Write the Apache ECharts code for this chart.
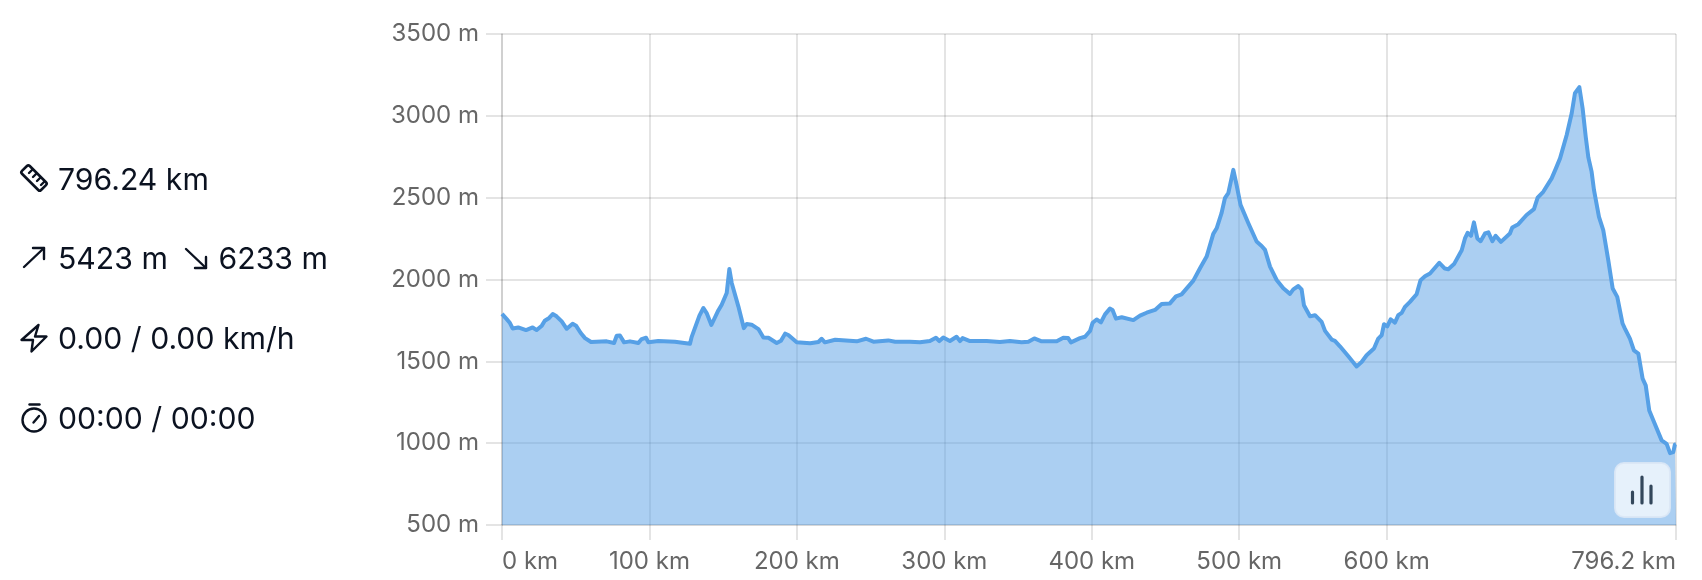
<!DOCTYPE html>
<html><head><meta charset="utf-8">
<style>html,body{margin:0;padding:0;background:#fff}#c{width:1702px;height:580px}</style>
<script src="https://cdn.jsdelivr.net/npm/echarts@6/dist/echarts.min.js"></script>
</head><body><div id="c"></div>
<script>
const distanceKm = [0,0.9,3.2,5.4,7.2,11,16.3,20.8,23.5,27,29,32,34.4,37,40.5,43.9,47.9,50.2,53.4,56.3,60.4,71,76,77.8,80,82.8,86.8,92.5,94.7,97.7,99.3,106,117.3,127.5,128.6,133.9,136.6,138.8,142,146.7,149,152.4,154.2,155.8,160.3,164,166,169.3,173.9,177.3,180.7,186.3,189.2,192,194.2,199.9,209,214.6,216.8,219,226,240.6,246.9,251.9,262,266.6,276.7,283.5,290.2,294.3,296.6,299.3,303.8,308.3,310.6,312.4,317.4,328.7,337.7,344.5,352.4,357,361,366,376.2,380.7,384,385.9,392,395.4,398.8,400.6,403.3,406.2,409,412.3,414.1,416.4,420.3,428.2,432.7,437.2,442.9,447.4,453,457.1,460.9,468.9,473.4,477.9,482.4,484.7,488,490.3,492.6,496,498.2,500.9,506.2,511.8,515.2,517.5,520.9,525.4,529.9,534.4,536.7,540.1,542.3,543.9,548,551.4,555.9,558.2,562.7,564.9,568.3,574,579.6,583,586.4,591.4,594.3,596.6,598.2,600.4,602.7,605.6,607.9,610.2,612.4,615.8,620.3,623,626,629.4,635.7,639.5,641.8,645.7,650.9,653.1,654.9,657.2,659.2,661.5,663.7,666.7,669,671.7,673.9,677.5,683.6,685.2,689.3,694.9,699.9,702.4,706.2,711.9,714.8,717.6,722.1,725.5,727.7,730.7,732.9,735,736.8,739,740.6,744,746.9,750.3,753.3,756.4,760,761.6,765,767.7,770.7,773.6,775.7,778.1,780.9,786.5,789.9,792.2,794.4,795.5,796.24];
const elevationM = [1790,1791,1758,1734,1701,1707,1691,1707,1691,1718,1748,1765,1789,1775,1744,1699,1730,1718,1673,1642,1618,1622,1612,1656,1658,1616,1622,1612,1636,1644,1616,1624,1620,1608,1648,1779,1826,1795,1722,1811,1846,1918,2064,1979,1836,1703,1728,1724,1697,1646,1644,1612,1626,1669,1661,1616,1610,1618,1638,1616,1632,1622,1638,1620,1628,1620,1620,1616,1624,1644,1624,1646,1624,1650,1624,1642,1624,1624,1618,1624,1616,1620,1640,1622,1622,1644,1642,1616,1642,1650,1685,1736,1756,1738,1787,1822,1814,1761,1769,1752,1779,1797,1814,1850,1854,1897,1909,1993,2069,2140,2279,2313,2405,2497,2528,2670,2579,2456,2344,2232,2205,2181,2079,1997,1946,1912,1940,1960,1940,1843,1775,1782,1741,1686,1633,1625,1592,1531,1469,1496,1537,1578,1639,1659,1727,1714,1757,1737,1782,1796,1833,1863,1910,1996,2020,2037,2102,2067,2063,2094,2179,2251,2285,2267,2349,2251,2234,2281,2288,2234,2267,2230,2281,2318,2338,2394,2430,2500,2536,2618,2679,2740,2883,3016,3138,3175,3046,2873,2746,2659,2547,2383,2302,2118,1945,1894,1731,1700,1639,1567,1547,1394,1353,1200,1139,1017,996,939,945,992,995];
const xTicks = [0,100,200,300,400,500,600,796.24];
const stats = ["796.24 km","5423 m","6233 m","0.00 / 0.00 km/h","00:00 / 00:00"];

const chart = echarts.init(document.getElementById('c'));
const txtFont = 'Inter, "Noto Sans", sans-serif';
const ink = '#0b1220';
const gridC = 'rgba(0,0,0,0.105)';
const T = (s,x,y)=>({type:'text',z:50,x,y,style:{text:s,fill:ink,font:'400 30.2px '+txtFont,verticalAlign:'middle'}});
const stroke = {stroke:ink,lineWidth:2.4,fill:null,lineCap:'round',lineJoin:'round'};
const PL = pts=>({type:'polyline',z:50,shape:{points:pts},style:stroke});
const bar = (x,y1,y2)=>({type:'line',z:60,shape:{x1:x,y1,x2:x,y2},style:{stroke:'#33475b',lineWidth:3.2,lineCap:'round'}});
chart.setOption({
  animation:false,
  grid:{left:502,top:34,width:1174,height:491,containLabel:false},
  xAxis:{type:'value',min:0,max:796.24,z:3,
    axisLine:{show:true,lineStyle:{color:'rgba(0,0,0,0.06)',width:2}},
    axisTick:{show:true,length:15,customValues:xTicks,lineStyle:{color:gridC,width:2}},
    splitLine:{show:true,lineStyle:{color:gridC,width:2}},
    axisLabel:{customValues:xTicks,margin:25,color:'#666',fontFamily:txtFont,fontSize:24,alignMinLabel:'left',alignMaxLabel:'right',
      formatter:v=>(v===796.24?'796.2':v)+' km'}},
  yAxis:{type:'value',min:500,max:3500,interval:500,z:3,
    axisLine:{show:true,lineStyle:{color:'rgba(0,0,0,0.09)',width:2}},
    axisTick:{show:true,length:16,lineStyle:{color:gridC,width:2}},
    splitLine:{show:true,lineStyle:{color:gridC,width:2}},
    axisLabel:{margin:23,color:'#666',fontFamily:txtFont,fontSize:24,formatter:v=>v+' m'}},
  series:[{type:'line',symbol:'none',data:distanceKm.map((d,i)=>[d,elevationM[i]]),
    lineStyle:{color:'#56a0e6',width:4,join:'round'},
    areaStyle:{color:'rgba(88,160,230,0.5)',opacity:1}}],
  graphic:[
    T(stats[0],58,180.5),T(stats[1],58,259.5),T(stats[2],218.5,259.5),T(stats[3],58,339.5),T(stats[4],58,419.5),
    {type:'rect',z:50,x:34,y:178,rotation:-Math.PI/4,shape:{x:-13.5,y:-5.5,width:27,height:11,r:2},style:{...stroke,lineWidth:2.6}},
    PL([[32,170],[29,173]]),PL([[36,174],[33,177]]),PL([[40,178],[37,181]]),PL([[44,182],[41,185]]),
    PL([[24,267],[44,248]]),PL([[33,248],[44,248],[44,259]]),
    PL([[186,249],[206,268]]),PL([[206,257],[206,268],[195,268]]),
    {type:'polygon',z:50,shape:{points:[[38.5,325],[21.5,340],[33,340],[31.5,351.5],[46.5,336.5],[35,336.5]]},style:stroke},
    {type:'circle',z:50,shape:{cx:34,cy:420,r:11.5},style:stroke},
    PL([[29.5,404.5],[39.5,404.5]]),PL([[33.5,422.5],[39,416]]),
    {type:'rect',z:55,shape:{x:1615,y:463,width:55,height:54,r:9},style:{fill:'rgba(255,255,255,0.7)',stroke:'rgba(220,232,246,0.9)',lineWidth:2}},
    bar(1632.5,492,503),bar(1642,477,503),bar(1651,486,503)
  ]
});
</script></body></html>
